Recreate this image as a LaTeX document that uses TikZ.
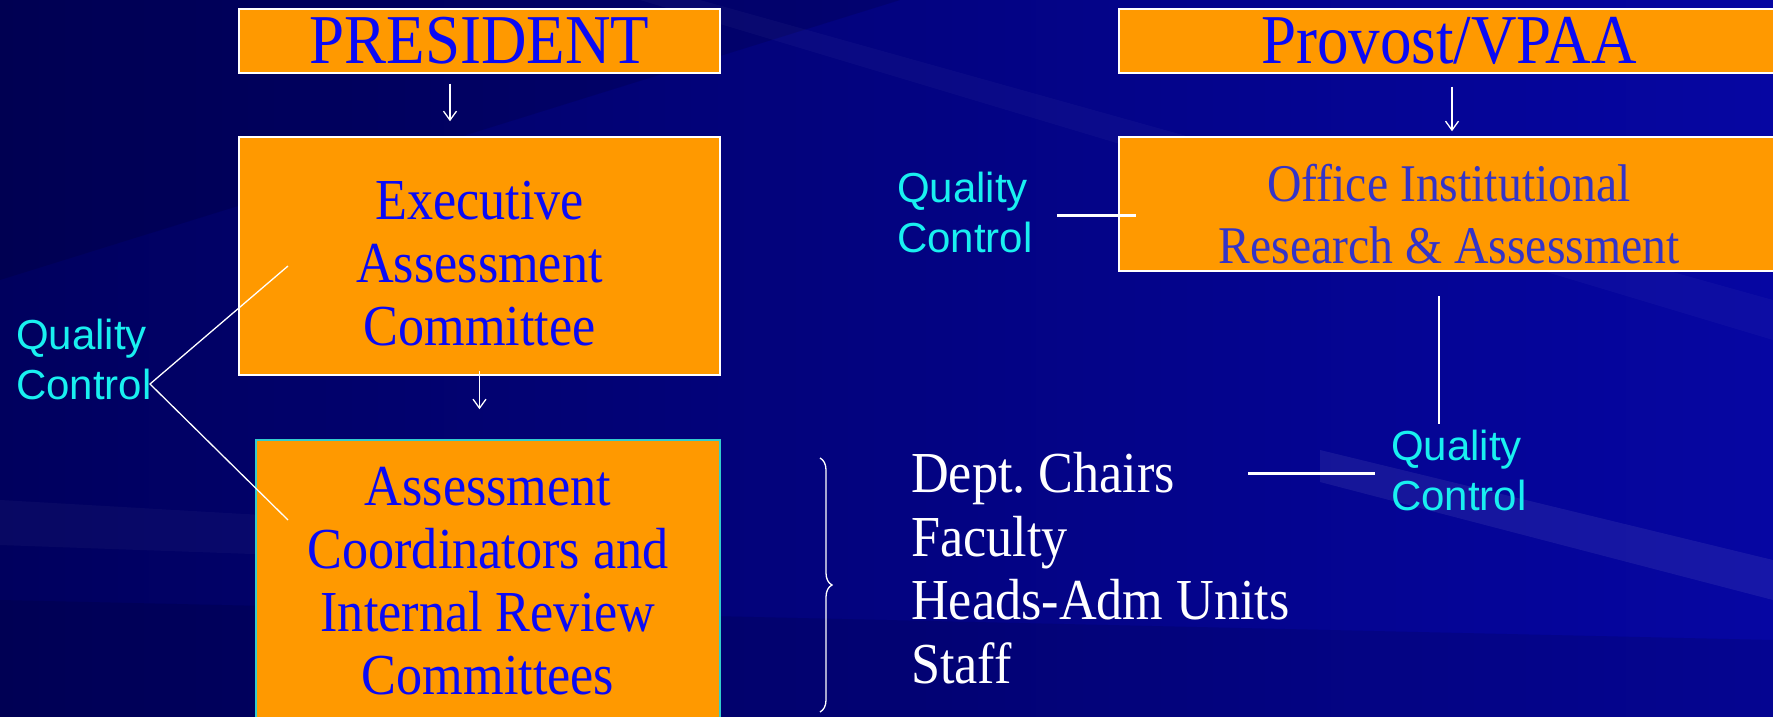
\documentclass[tikz,border=0pt]{standalone}
\usepackage{fontspec}
\setmainfont{Liberation Serif}
\newfontfamily\boxfont[FakeStretch=0.9]{Liberation Serif}
\newfontfamily\qcfont{Liberation Sans}
\usetikzlibrary{arrows.meta,decorations.pathreplacing}
\definecolor{bgdark}{HTML}{00005E}
\definecolor{bglight}{HTML}{0606A2}
\definecolor{boxorange}{HTML}{FF9900}
\definecolor{boxblue}{HTML}{0A0AF5}
\definecolor{officeblue}{HTML}{3434C8}
\definecolor{qccyan}{HTML}{19F0F0}
\definecolor{edgecyan}{HTML}{33CCCC}
\begin{document}
\begin{tikzpicture}[x=1pt,y=-1pt,
  orgbox/.style={draw=white,line width=1.5pt,fill=boxorange,text=boxblue,
    align=center,inner sep=0pt},
  boxtext/.style={text=boxblue,align=center,inner sep=0pt,
    font=\boxfont\fontsize{58}{63}\selectfont},
  qc/.style={text=qccyan,align=left,inner sep=0pt,
    font=\qcfont\fontsize{42}{50}\selectfont},
  link/.style={white,line width=1.3pt},
  down/.style={white,line width=1.3pt,-{Straight Barb[length=9pt,width=13pt]}}]
\useasboundingbox (0,0) rectangle (1773,717);
\clip (0,0) rectangle (1773,717);
% slide background and its streaks
\shade[left color=bgdark,right color=bglight] (0,0) rectangle (1773,717);
\fill[black,opacity=0.12] (0,0) -- (900,0) -- (0,280) -- cycle;
\fill[black,opacity=0.10] (0,600) -- (1773,640) -- (1773,717) -- (0,717) -- cycle;
\fill[white,opacity=0.03] (0,500) -- (700,540) -- (700,570) -- (0,545) -- cycle;
\fill[white,opacity=0.03] (700,0) -- (1773,300) -- (1773,340) -- (640,0) -- cycle;
\fill[white,opacity=0.07] (1320,450) -- (1773,560) -- (1773,600) -- (1320,482) -- cycle;

% left column
\node[orgbox,minimum width=481,minimum height=64,
  font=\boxfont\fontsize{70}{70}\selectfont] (pres) at (479.5,41) {PRESIDENT};
\node[orgbox,minimum width=481,minimum height=238] (exec) at (479.5,256) {};
\node[boxtext] (execlbl) at ([yshift=-8pt]exec.center)
  {Executive\\Assessment\\Committee};
\node[orgbox,draw=edgecyan,minimum width=464,minimum height=282] (coord) at (488,581) {};
\node[boxtext] (coordlbl) at (coord.center)
  {Assessment\\Coordinators and\\Internal Review\\Committees};

% right column
\node[orgbox,minimum width=660,minimum height=64,
  font=\boxfont\fontsize{70}{70}\selectfont] (prov) at (1449,41) {Provost/VPAA};
\node[orgbox,minimum width=660,minimum height=134] (office) at (1449,204) {};
\node[boxtext,text=officeblue,font=\boxfont\fontsize{53}{62}\selectfont]
  (officelbl) at ([yshift=-10pt]office.center)
  {Office Institutional\\Research \& Assessment};

\node[text=white,align=left,inner sep=0pt,anchor=west,
  font=\boxfont\fontsize{58}{63.5}\selectfont] (staff) at (911,568)
  {Dept.\ Chairs\\Faculty\\Heads-Adm Units\\Staff};

\node[qc,anchor=west] (qcL) at (16,359) {Quality\\Control};
\node[qc,anchor=west] (qcTR) at (897,212) {Quality\\Control};
\node[qc,anchor=west] (qcBR) at (1391,470) {Quality\\Control};

\coordinate (fork) at (150,384);
\coordinate (execpt) at (288,266);
\coordinate (coordpt) at (288,520);
\coordinate (offpt) at (1136,215);
\coordinate (vtop) at (1439,296);
\coordinate (vbot) at (1439,424);
\coordinate (staffpt) at (1248,473);

% arrows down the chain
\draw[down,shorten <=10pt,shorten >=15pt] ([xshift=-29.5pt]pres.south) -- ([xshift=-29.5pt]exec.north);
\draw[down,shorten <=-5pt,shorten >=30pt] (exec.south) -- (exec.south |- coord.north);
\draw[down,shorten <=13pt,shorten >=5pt] ([xshift=3pt]prov.south) -- ([xshift=3pt]office.north);

% quality control links
\draw[link] (execpt) -- (fork) -- (coordpt);
\draw[white,line width=3pt] ([xshift=24pt]qcTR.east |- offpt) -- (offpt);
\draw[link,line width=2pt] (vtop) -- (vbot);
\draw[white,line width=3pt] (staffpt) -- ([xshift=-16pt]staffpt -| qcBR.west);

% brace around the staff list
\draw[white,line width=1.3pt,decorate,decoration={brace,amplitude=12pt}]
  (820,458) -- (820,712);
\end{tikzpicture}
\end{document}
